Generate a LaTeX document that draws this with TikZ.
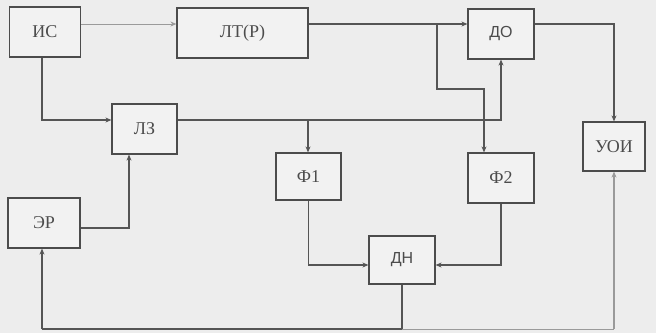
\documentclass[tikz,border=0pt]{standalone}
\usepackage{fontspec}
\setmainfont{Liberation Serif}
\newfontfamily\sansf{Liberation Sans}
\usetikzlibrary{arrows.meta}
\definecolor{bg}{HTML}{EDEDED}
\definecolor{boxfill}{HTML}{F2F2F2}
\definecolor{ln}{HTML}{555555}
\definecolor{lnl}{HTML}{9A9A9A}
\tikzset{
  blk/.style={draw=ln!90!black, fill=boxfill, line width=1.2pt, inner sep=0pt, font=\fontsize{18}{20}\selectfont, text=black!70},
  sblk/.style={blk, font=\sansf\fontsize{16}{18}\selectfont},
  wire/.style={draw=ln, line width=1.1pt},
  arr/.style={wire, -{Stealth[length=6pt,width=5pt]}},
  farr/.style={draw=lnl, line width=1pt, -{Stealth[length=6pt,width=5pt]}},
}
\begin{document}
\begin{tikzpicture}[x=1pt,y=-1pt]
\fill[bg] (0,0) rectangle (656,333);
\useasboundingbox (0,0) rectangle (656,333);
% blocks
\node[blk, minimum width=71pt, minimum height=50pt] (is) at (45,32) {ИС};
\node[blk, minimum width=131pt, minimum height=50pt] (lt) at (242.5,33) {ЛТ(Р)};
\node[blk, minimum width=65pt, minimum height=50pt] (lz) at (144.5,129) {ЛЗ};
\node[sblk, minimum width=66pt, minimum height=50pt] (do) at (501,34) {ДО};
\node[blk, minimum width=62pt, minimum height=49pt] (uoi) at (614,146.5) {УОИ};
\node[blk, minimum width=65pt, minimum height=47pt] (f1) at (308.5,176.5) {Ф1};
\node[blk, minimum width=66pt, minimum height=50pt] (f2) at (501,178) {Ф2};
\node[sblk, minimum width=66pt, minimum height=48pt] (dn) at (402,260) {ДН};
\node[blk, minimum width=72pt, minimum height=50pt] (er) at (44,223) {ЭР};
% row / column helpers
\coordinate (r1) at (0,24);
\coordinate (r2) at (0,120);
\coordinate (r4) at (0,228);
\coordinate (r5) at (0,265);
\coordinate (r6) at (0,329);
\coordinate (j1) at (437,24);
\coordinate (c1) at (437,89);
\coordinate (c2) at (484,89);
\coordinate (j2) at (308,120);
\coordinate (c42) at (42,0);
\coordinate (c129) at (129,0);
% connectors
\draw[farr] (is.east|-r1) -- (lt.west|-r1);
\draw[arr] (lt.east|-r1) -- (do.west|-r1);
\draw[arr] (j1) -- (c1) -- (c2) -- (c2|-f2.north);
\draw[arr] (do.east|-r1) -| (uoi.north);
\draw[arr] (c42|-is.south) |- (lz.west|-r2);
\draw[arr] (lz.east|-r2) -| (do.south);
\draw[arr] (j2) -- (j2|-f1.north);
\draw[arr] (er.east|-r4) -| (c129|-lz.south);
\draw[arr] (f1.south) |- (dn.west|-r5);
\draw[arr] (f2.south) |- (dn.east|-r5);
\draw[wire] (dn.south) -- (dn.south|-r6);
\draw[wire] (c42|-r6) -- (dn.south|-r6);
\draw[draw=lnl, line width=1pt] (dn.south|-r6) -- (uoi.south|-r6);
\draw[arr] (c42|-r6) -- (c42|-er.south);
\draw[farr, line width=1.3pt] (uoi.south|-r6) -- (uoi.south);
\end{tikzpicture}
\end{document}
